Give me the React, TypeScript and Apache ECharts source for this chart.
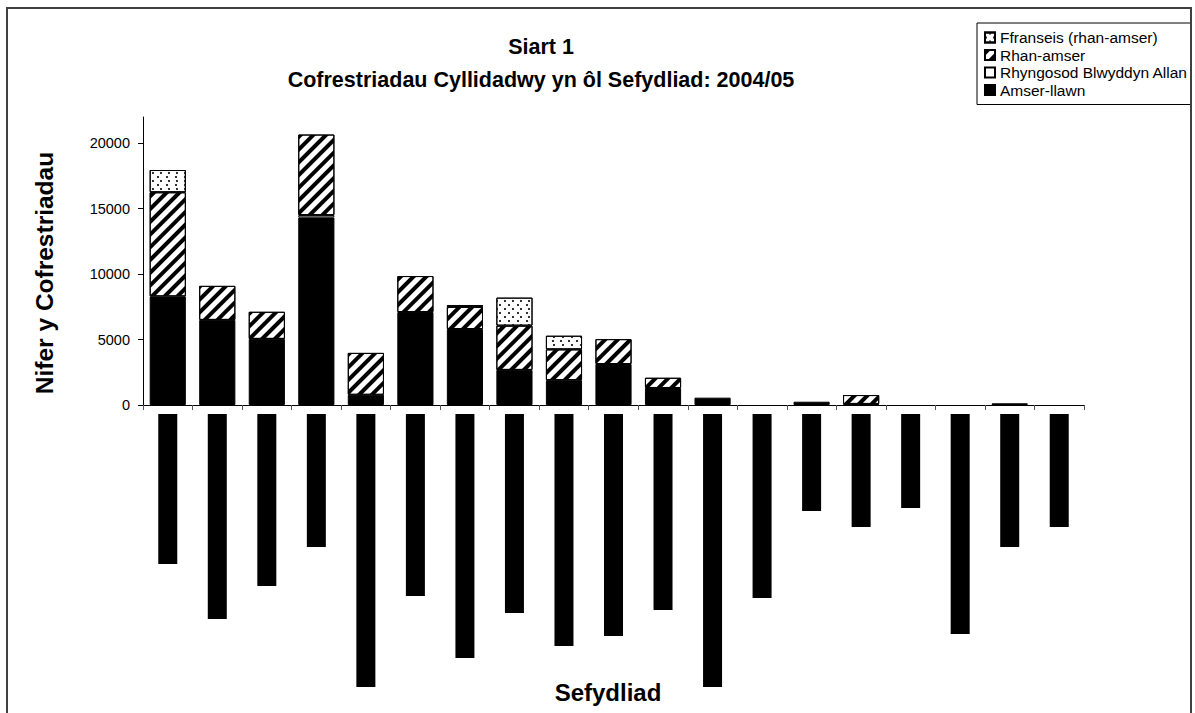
import React, { useEffect, useRef } from 'react';
import * as echarts from 'echarts';

// ---- data ----
const categories = [
  'Sefydliad 1', 'Sefydliad 2', 'Sefydliad 3', 'Sefydliad 4', 'Sefydliad 5',
  'Sefydliad 6', 'Sefydliad 7', 'Sefydliad 8', 'Sefydliad 9', 'Sefydliad 10',
  'Sefydliad 11', 'Sefydliad 12', 'Sefydliad 13', 'Sefydliad 14', 'Sefydliad 15',
  'Sefydliad 16', 'Sefydliad 17', 'Sefydliad 18', 'Sefydliad 19',
];
const amserLlawn = [8300, 6500, 5050, 14330, 780, 7100, 5800, 2680, 1900, 3130, 1300, 560, 0, 250, 80, 0, 0, 130, 0];
const rhyngosod = [0, 0, 0, 180, 0, 0, 0, 0, 0, 0, 0, 0, 0, 0, 0, 0, 0, 0, 0];
const rhanAmser = [7950, 2600, 2070, 6150, 3200, 2750, 1700, 3380, 2350, 1900, 780, 0, 0, 0, 680, 0, 0, 0, 0];
const ffranseis = [1700, 0, 0, 0, 0, 0, 130, 2140, 1040, 0, 0, 0, 0, 0, 0, 0, 0, 0, 0];
const yTicks = [0, 5000, 10000, 15000, 20000];
const seriesNames = ['Ffranseis (rhan-amser)', 'Rhan-amser', 'Rhyngosod Blwyddyn Allan', 'Amser-llawn'];
const titleLines = ['Siart 1', 'Cofrestriadau Cyllidadwy yn ôl Sefydliad: 2004/05'];
const yAxisTitle = 'Nifer y Cofrestriadau';
const xAxisTitle = 'Sefydliad';

// ---- styles ----
const FONT = "'Liberation Sans', Arial, sans-serif";
const labelBoxLengths = [150, 205, 172, 133, 273, 182, 244, 199, 232, 222, 196, 273, 184, 97, 113, 94, 220, 133, 113];

// empty segments are not drawn at all
const shown = (arr: number[]) => arr.map((v) => (v === 0 ? null : v));

export default function App() {
  const ref = useRef<HTMLDivElement>(null);
  useEffect(() => {
    document.body.style.margin = '0';
    const chart = echarts.init(ref.current as HTMLDivElement, null, { renderer: 'svg' });
    const rich: any = {};
    labelBoxLengths.forEach((w, i) => {
      rich['l' + i] = {
        width: w,
        height: 19,
        backgroundColor: '#000',
        color: '#000',
        fontSize: 10,
        fontFamily: FONT,
      };
    });
    const base = {
      type: 'bar',
      stack: 'total',
      barWidth: '73%',
    };
    const option: any = {
      animation: false,
      backgroundColor: '#fff',
      grid: { left: 143, top: 117, width: 941, height: 288, containLabel: false },
      legend: {
        data: seriesNames,
        orient: 'vertical',
        left: 977,
        top: 23,
        icon: 'rect',
        itemWidth: 10,
        itemHeight: 10,
        itemGap: 0.5,
        padding: [6, 3, 6, 7],
        borderColor: '#000',
        borderWidth: 1,
        selectedMode: false,
        textStyle: { fontFamily: FONT, fontSize: 15.5, color: '#000', lineHeight: 17 },
      },
      xAxis: {
        type: 'category',
        data: categories,
        axisLine: { lineStyle: { color: '#000', width: 1 } },
        axisTick: { show: true, interval: 0, length: 5, lineStyle: { color: '#555' } },
        axisLabel: {
          interval: 0,
          rotate: 90,
          margin: 9,
          formatter: (v: string, i: number) => `{l${i}|${v}}`,
          rich,
        },
      },
      yAxis: {
        type: 'value',
        min: 0,
        max: 22000,
        interval: 5000,
        splitLine: { show: false },
        axisLine: { show: true, lineStyle: { color: '#000', width: 1 } },
        axisTick: { show: true, length: 5, lineStyle: { color: '#000' }, customValues: yTicks },
        axisLabel: {
          customValues: yTicks,
          color: '#000',
          fontFamily: FONT,
          fontSize: 14.5,
          margin: 13,
          formatter: (v: number) => (v > 20000 ? '' : String(v)),
        },
      },
      series: [
        {
          ...base,
          name: 'Amser-llawn',
          data: shown(amserLlawn),
          itemStyle: { color: '#000', borderColor: '#000', borderWidth: 1 },
        },
        {
          ...base,
          name: 'Rhyngosod Blwyddyn Allan',
          data: shown(rhyngosod),
          itemStyle: { color: '#fff', borderColor: '#000', borderWidth: 1 },
        },
        {
          ...base,
          name: 'Rhan-amser',
          data: shown(rhanAmser),
          itemStyle: {
            color: '#fff',
            borderColor: '#000',
            borderWidth: 1,
            decal: {
              symbol: 'rect',
              symbolSize: 1,
              color: '#000',
              dashArrayX: [1, 0],
              dashArrayY: [3.5, 4.5],
              rotation: -Math.PI / 4,
            },
          },
        },
        {
          ...base,
          name: 'Ffranseis (rhan-amser)',
          data: shown(ffranseis),
          itemStyle: {
            color: '#fff',
            borderColor: '#000',
            borderWidth: 1,
            decal: {
              symbol: 'rect',
              symbolSize: 1,
              color: '#333',
              dashArrayX: [[1.5, 6], [0, 3.75, 1.5, 2.25]],
              dashArrayY: [1.5, 2],
            },
          },
        },
      ],
      graphic: [
        {
          type: 'rect',
          silent: true,
          shape: { x: 7, y: 8, width: 1184, height: 800 },
          style: { fill: 'none', stroke: '#404040', lineWidth: 2 },
          z: 100,
        },
        {
          type: 'text',
          x: 541,
          y: 47,
          style: {
            text: titleLines[0],
            textAlign: 'center',
            textVerticalAlign: 'middle',
            font: `bold 21.5px ${FONT}`,
            fill: '#000',
          },
        },
        {
          type: 'text',
          x: 541,
          y: 80,
          style: {
            text: titleLines[1],
            textAlign: 'center',
            textVerticalAlign: 'middle',
            font: `bold 21.5px ${FONT}`,
            fill: '#000',
          },
        },
        {
          type: 'text',
          x: 44,
          y: 273,
          rotation: Math.PI / 2,
          style: {
            text: yAxisTitle,
            textAlign: 'center',
            textVerticalAlign: 'middle',
            font: `bold 24.5px ${FONT}`,
            fill: '#000',
          },
        },
        {
          type: 'text',
          x: 608,
          y: 692,
          style: {
            text: xAxisTitle,
            textAlign: 'center',
            textVerticalAlign: 'middle',
            font: `bold 24px ${FONT}`,
            fill: '#000',
          },
        },
      ],
    };
    chart.setOption(option);
    return () => chart.dispose();
  }, []);
  return <div ref={ref} style={{ width: 1195, height: 713 }} />;
}
